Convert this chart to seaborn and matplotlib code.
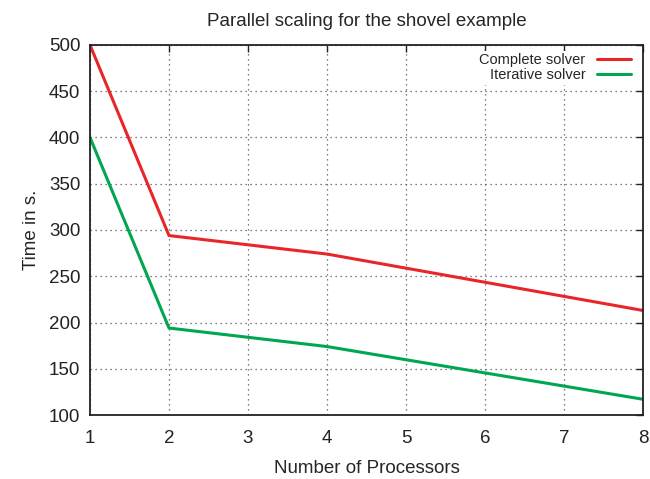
import matplotlib
matplotlib.use("Agg")
import matplotlib.pyplot as plt
import seaborn as sns
import pandas as pd

processors = [1, 2, 4, 8]
complete_solver = [500, 294, 274, 213]
iterative_solver = [400, 194, 174, 117]
series_names = ["Complete solver", "Iterative solver"]
x_ticks = [1, 2, 3, 4, 5, 6, 7, 8]
y_ticks = [100, 150, 200, 250, 300, 350, 400, 450, 500]

df = pd.DataFrame({
    "Processors": processors * 2,
    "Time": complete_solver + iterative_solver,
    "Solver": [series_names[0]] * len(processors) + [series_names[1]] * len(processors),
})

sns.set_style("white")
plt.rcParams["font.family"] = ["Liberation Sans", "DejaVu Sans"]

fig = plt.figure(figsize=(6.5, 4.79), dpi=100)
ax = fig.add_axes([90 / 650, 1 - 415 / 479, (643 - 90) / 650, (415 - 45) / 479])

sns.lineplot(data=df, x="Processors", y="Time", hue="Solver",
             palette=["#e8262a", "#00a650"], linewidth=2.2, ax=ax)

ax.set_xlim(1, 8)
ax.set_ylim(100, 500)
ax.set_xticks(x_ticks)
ax.set_yticks(y_ticks)
ax.tick_params(direction="in", top=True, right=True, length=5, width=1,
               labelsize=13.5, colors="#222222")
ax.tick_params(axis="x", pad=11)
ax.tick_params(axis="y", pad=7)
ax.grid(True, linestyle=(0, (1, 3)), color="#555555", linewidth=0.9)
for s in ax.spines.values():
    s.set_linewidth(1.3)
    s.set_color("#222222")

ax.set_xlabel("Number of Processors", fontsize=13.5, labelpad=9)
ax.set_ylabel("Time in s.", fontsize=13.5, labelpad=6)
ax.set_title("Parallel scaling for the shovel example", fontsize=13.5, pad=14)

leg = ax.legend(loc="upper right", frameon=True, markerfirst=False,
                fontsize=10.5, handlelength=2.3, borderaxespad=0.2,
                labelspacing=0.05, handletextpad=0.8, borderpad=0.2,
                fancybox=False, framealpha=1.0,
                bbox_to_anchor=(0.988, 0.993))
leg.get_frame().set_edgecolor("none")
leg.get_frame().set_facecolor("white")

fig.savefig("out.png", dpi=100)
